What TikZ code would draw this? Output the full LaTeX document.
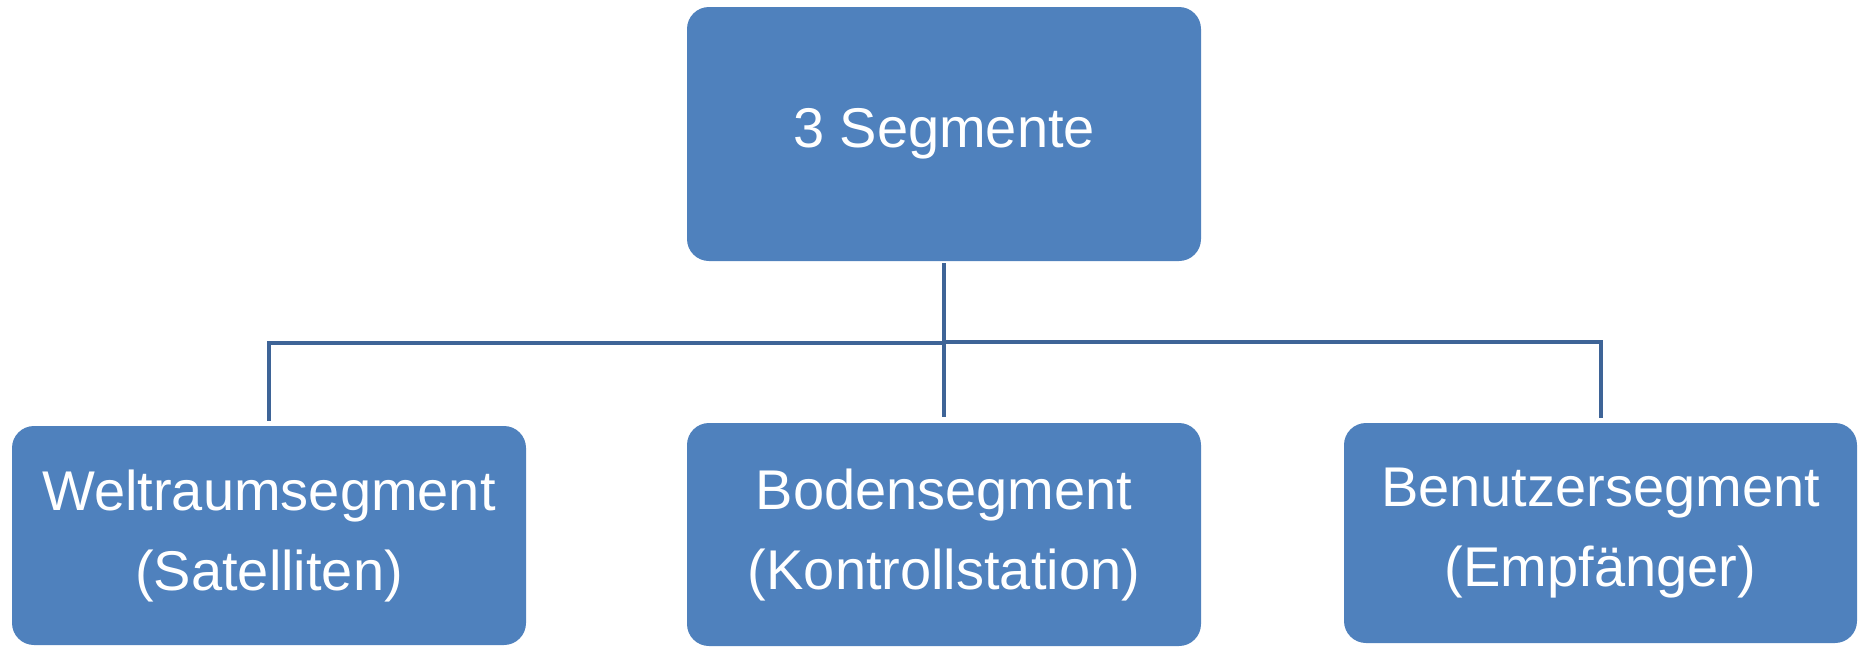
\documentclass[tikz,border=0pt]{standalone}
\usepackage{fontspec}
\setmainfont{Liberation Sans}
\definecolor{boxblue}{HTML}{4F81BD}
\definecolor{lineblue}{HTML}{3E6497}
\begin{document}
\begin{tikzpicture}[x=1pt,y=-1pt,
  segbox/.style={fill=boxblue, rounded corners=22pt, inner sep=0pt, align=center,
    text=white, font=\fontsize{56}{80}\selectfont},
  conn/.style={draw=lineblue, line width=4pt}]
\useasboundingbox (0,0) rectangle (1861,646);
\node[segbox, minimum width=514pt, minimum height=254pt] (top) at (944,134) {3 Segmente};
\node[segbox, minimum width=514pt, minimum height=219pt] (left) at (269,535.5) {Weltraumsegment\\(Satelliten)};
\node[segbox, minimum width=514pt, minimum height=223pt] (mid) at (944,534.5) {Bodensegment\\(Kontrollstation)};
\node[segbox, minimum width=513pt, minimum height=220pt] (right) at (1600.5,533) {Benutzersegment\\(Empfänger)};
\coordinate (busl) at (944,343);
\coordinate (busr) at (944,342);
\draw[conn] ([yshift=-2pt]top.south) -- ([yshift=6pt]mid.north);
\draw[conn] (busl) -| ([yshift=5pt]left.north);
\draw[conn] (busr) -| ([yshift=5pt]right.north);
\end{tikzpicture}
\end{document}
